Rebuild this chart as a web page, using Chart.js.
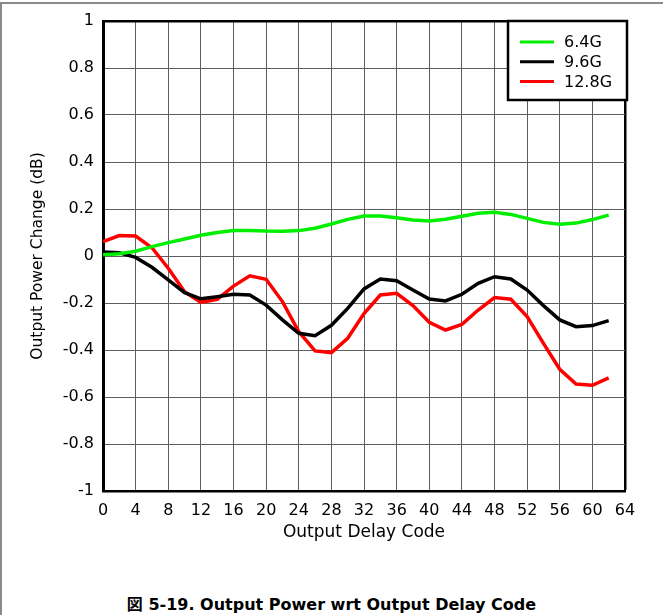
<!DOCTYPE html>
<html>
<head>
<meta charset="utf-8">
<script src="https://cdn.jsdelivr.net/npm/chart.js@4/dist/chart.umd.min.js"></script>
<style>
  html, body { margin: 0; padding: 0; background: #fff; }
  #frame { position: absolute; left: 0; top: 2px; width: 663px; height: 613px;
           border-top: 2px solid #8a8a8a; border-left: 2px solid #8a8a8a; box-sizing: border-box; }
  #wrap { position: absolute; left: 0; top: 0; width: 663px; height: 545px; }
  #caption { position: absolute; left: 0; width: 663px; top: 591px; text-align: center;
             font: bold 16px "DejaVu Sans", "Noto Sans CJK JP", sans-serif; color: #000; }
</style>
</head>
<body>
<div id="frame"></div>
<div id="wrap"><canvas id="c" width="663" height="545"></canvas></div>
<div id="caption">図 5-19. Output Power wrt Output Delay Code</div>
<script>
// ---- data ----
const codes = [0,2,4,6,8,10,12,14,16,18,20,22,24,26,28,30,32,34,36,38,40,42,44,46,48,50,52,54,56,58,60,62];
const g64 = [0.005,0.010,0.020,0.040,0.057,0.072,0.088,0.100,0.108,0.109,0.106,0.105,0.108,0.118,0.136,0.156,0.170,0.170,0.163,0.153,0.149,0.156,0.169,0.182,0.186,0.177,0.160,0.143,0.135,0.140,0.155,0.174];
const g96 = [0.017,0.014,-0.006,-0.048,-0.102,-0.156,-0.182,-0.173,-0.163,-0.166,-0.209,-0.272,-0.329,-0.339,-0.295,-0.223,-0.140,-0.098,-0.105,-0.145,-0.183,-0.191,-0.163,-0.116,-0.088,-0.098,-0.145,-0.211,-0.272,-0.301,-0.296,-0.275];
const g128 = [0.061,0.087,0.085,0.035,-0.052,-0.152,-0.197,-0.184,-0.128,-0.084,-0.099,-0.194,-0.322,-0.404,-0.411,-0.350,-0.245,-0.166,-0.159,-0.211,-0.282,-0.315,-0.291,-0.230,-0.177,-0.184,-0.258,-0.372,-0.482,-0.545,-0.550,-0.519];
const seriesLabels = ['6.4G','9.6G','12.8G'];
const seriesColors = ['#00ee00','#000000','#ff0000'];
const xTitle = 'Output Delay Code';
const yTitle = 'Output Power Change (dB)';

const FONT = '"DejaVu Sans", "Liberation Sans", sans-serif';
const toPts = (ys) => codes.map((c, i) => ({ x: c, y: ys[i] }));

const boxLegend = {
  id: 'boxLegend',
  afterDatasetsDraw(chart) {
    const ctx = chart.ctx, a = chart.chartArea;
    const right = a.right + 2, left = right - 119, top = a.top, bottom = a.top + 79;
    ctx.save();
    ctx.fillStyle = '#fff';
    ctx.fillRect(left, top, right - left, bottom - top);
    ctx.strokeStyle = '#000'; ctx.lineWidth = 2.5;
    ctx.strokeRect(left, top, right - left, bottom - top);
    ctx.font = '16px ' + FONT; ctx.textBaseline = 'middle'; ctx.textAlign = 'left';
    chart.data.datasets.forEach((ds, i) => {
      const y = top + 21 + i * 19.7;
      ctx.strokeStyle = ds.borderColor; ctx.lineWidth = 3;
      ctx.beginPath(); ctx.moveTo(left + 12, y); ctx.lineTo(left + 46, y); ctx.stroke();
      ctx.fillStyle = '#000';
      ctx.fillText(ds.label, left + 56, y + 1);
    });
    ctx.restore();
  }
};

new Chart(document.getElementById('c'), {
  type: 'line',
  data: {
    datasets: [g64, g96, g128].map((ys, i) => ({
      label: seriesLabels[i], data: toPts(ys), borderColor: seriesColors[i],
      backgroundColor: seriesColors[i], borderWidth: 3.5, pointRadius: 0, tension: 0, fill: false
    }))
  },
  options: {
    responsive: false, animation: false,
    layout: { padding: { top: 21, right: 38, left: 0, bottom: 0 } },
    plugins: { legend: { display: false }, tooltip: { enabled: false } },
    scales: {
      x: {
        type: 'linear', min: 0, max: 64,
        afterFit: (s) => { s.height = 54; },
        ticks: { stepSize: 4, color: '#000', font: { family: FONT, size: 16 }, padding: 10, maxRotation: 0, autoSkip: false },
        grid: { drawTicks: false,
          color: (c) => (c.tick && c.tick.value === 64) ? '#000' : '#5e5e5e',
          lineWidth: (c) => (c.tick && c.tick.value === 64) ? 2.5 : 1 },
        border: { color: '#000', width: 2.5 },
        title: { display: true, text: xTitle, color: '#000', font: { family: FONT, size: 17 }, padding: { top: 0, bottom: 2 } }
      },
      y: {
        min: -1, max: 1,
        afterFit: (s) => { s.width = 103; },
        ticks: { stepSize: 0.2, color: '#000', font: { family: FONT, size: 16 }, padding: 9,
                 callback: (v) => String(parseFloat(Number(v).toFixed(1))) },
        grid: { drawTicks: false,
          color: (c) => (c.tick && c.tick.value === 1) ? '#000' : '#5e5e5e',
          lineWidth: (c) => (c.tick && c.tick.value === 1) ? 2.5 : 1 },
        border: { color: '#000', width: 3 },
        title: { display: true, text: yTitle, color: '#000', font: { family: FONT, size: 15.5 }, padding: { top: 29, bottom: 0 } }
      }
    }
  },
  plugins: [boxLegend]
});
</script>
</body>
</html>
